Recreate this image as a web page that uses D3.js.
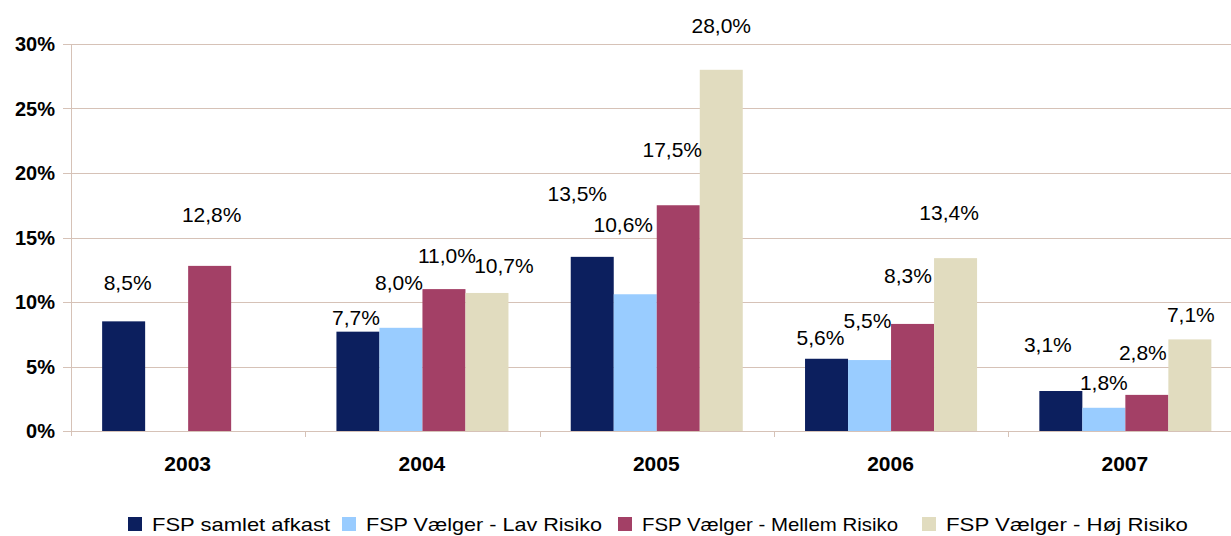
<!DOCTYPE html>
<html>
<head>
<meta charset="utf-8">
<script src="https://cdn.jsdelivr.net/npm/d3@7"></script>
<style>
  html, body { margin: 0; padding: 0; background: #fff; }
  svg { display: block; font-family: "Liberation Sans", Arial, sans-serif; }
</style>
</head>
<body>
<svg id="chart" width="1231" height="536"></svg>
<script>
// ---- data ----
const years = ["2003", "2004", "2005", "2006", "2007"];
const seriesNames = ["FSP samlet afkast", "FSP Vælger - Lav Risiko", "FSP Vælger - Mellem Risiko", "FSP Vælger - Høj Risiko"];
const samletAfkast = [8.5, 7.7, 13.5, 5.6, 3.1];
const lavRisiko    = [null, 8.0, 10.6, 5.5, 1.8];
const mellemRisiko = [12.8, 11.0, 17.5, 8.3, 2.8];
const hojRisiko    = [null, 10.7, 28.0, 13.4, 7.1];
const yTicks = [0, 5, 10, 15, 20, 25, 30];

// ---- layout constants (label placement as in the original, px) ----
const labelDx = [
  [4, -2, -15, -6, -13],
  [0, -2, -12, -2, 0],
  [2, 3, -6, -4.5, -4],
  [0, 17, 0, -6.5, 1]
];
const labelDy = [
  [-39, -14, -63, -21, -46.5],
  [0, -45, -70, -39.5, -25],
  [-51, -34, -56, -48, -42],
  [0, -27.5, -44, -46, -25]
];
const colors = ["#0c1f5e", "#99ccff", "#a34066", "#e1dcbf"];
const gridColor = "#d6c2b7";

const allSeries = [samletAfkast, lavRisiko, mellemRisiko, hojRisiko];

const svg = d3.select("#chart");
const mLeft = 71, mRight = 1242.5, mTop = 44, mBottom = 431;

const x0 = d3.scaleBand().domain(years).range([mLeft, mRight]).paddingInner(0).paddingOuter(0);
const x1 = d3.scaleBand().domain(d3.range(4)).range([0, x0.bandwidth()]).paddingInner(0).paddingOuter(0.724);
const y = d3.scaleLinear().domain([0, 30]).range([mBottom, mTop]);

// gridlines
svg.append("g").selectAll("line").data(yTicks).join("line")
  .attr("x1", 63).attr("x2", 1231)
  .attr("y1", d => Math.round(y(d)) + 0.5).attr("y2", d => Math.round(y(d)) + 0.5)
  .attr("stroke", gridColor).attr("stroke-width", 1);

// y axis line
svg.append("line").attr("x1", mLeft + 0.5).attr("x2", mLeft + 0.5)
  .attr("y1", mTop).attr("y2", mBottom + 5)
  .attr("stroke", gridColor);

// y tick labels
svg.append("g").selectAll("text").data(yTicks).join("text")
  .attr("x", 55).attr("y", d => y(d))
  .attr("dy", "0.36em")
  .attr("text-anchor", "end")
  .attr("font-size", 20).attr("font-weight", "bold").attr("fill", "#000")
  .text(d => d + "%");

// category ticks
svg.append("g").selectAll("line").data(years.slice(1)).join("line")
  .attr("x1", d => Math.round(x0(d)) + 0.5).attr("x2", d => Math.round(x0(d)) + 0.5)
  .attr("y1", mBottom).attr("y2", mBottom + 6)
  .attr("stroke", gridColor);

// bars
const barData = [];
allSeries.forEach((vals, s) => {
  vals.forEach((v, i) => {
    if (v !== null) barData.push({ s, i, v });
  });
});

svg.append("g").selectAll("rect").data(barData).join("rect")
  .attr("x", d => x0(years[d.i]) + x1(d.s))
  .attr("width", x1.bandwidth())
  .attr("y", d => y(d.v))
  .attr("height", d => y(0) - y(d.v))
  .attr("fill", d => colors[d.s]);

// data labels
const fmt = v => v.toFixed(1).replace(".", ",") + "%";
svg.append("g").selectAll("text").data(barData).join("text")
  .attr("x", d => x0(years[d.i]) + x1(d.s) + x1.bandwidth() / 2 + labelDx[d.s][d.i])
  .attr("y", d => y(d.v) + labelDy[d.s][d.i])
  .attr("dy", "0.36em")
  .attr("text-anchor", "middle")
  .attr("font-size", 21).attr("fill", "#000")
  .text(d => fmt(d.v));

// year labels
svg.append("g").selectAll("text").data(years).join("text")
  .attr("x", d => x0(d) + x0.bandwidth() / 2 - 0.5)
  .attr("y", 463)
  .attr("dy", "0.36em")
  .attr("text-anchor", "middle")
  .attr("font-size", 21).attr("font-weight", "bold").attr("fill", "#000")
  .text(d => d);

// legend
const legendX = [128, 342, 618, 922];
const legendTextW = [178, 236, 256, 242];
const lg = svg.append("g").selectAll("g").data(seriesNames).join("g")
  .attr("transform", (d, i) => `translate(${legendX[i]},0)`);
lg.append("rect").attr("x", 0).attr("y", 517).attr("width", 14).attr("height", 14)
  .attr("fill", (d, i) => colors[i]);
lg.append("text").attr("x", 24).attr("y", 524).attr("dy", "0.36em")
  .attr("font-size", 19).attr("fill", "#000")
  .attr("textLength", (d, i) => legendTextW[i]).attr("lengthAdjust", "spacingAndGlyphs")
  .text(d => d);
</script>
</body>
</html>
